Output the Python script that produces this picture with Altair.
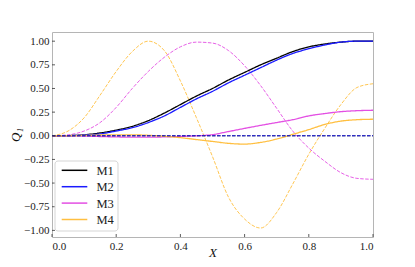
import altair as alt
import pandas as pd

X = [0.0, 0.05, 0.10, 0.15, 0.20, 0.25, 0.30, 0.35, 0.40, 0.45, 0.50,
     0.55, 0.60, 0.65, 0.70, 0.75, 0.80, 0.85, 0.90, 0.95, 1.0]

m1_solid = [0.0, 0.002, 0.01, 0.03, 0.06, 0.10, 0.16, 0.24, 0.33, 0.42, 0.50,
            0.59, 0.67, 0.75, 0.82, 0.89, 0.94, 0.97, 0.99, 1.0, 1.0]
m2_solid = [0.0, 0.001, 0.008, 0.02, 0.05, 0.085, 0.14, 0.21, 0.30, 0.39, 0.47,
            0.56, 0.64, 0.72, 0.80, 0.87, 0.92, 0.96, 0.99, 1.0, 1.0]
m3_solid = [0.0, 0.0, -0.003, -0.008, -0.012, -0.015, -0.015, -0.012, -0.007, 0.0, 0.012,
            0.045, 0.078, 0.11, 0.14, 0.17, 0.21, 0.235, 0.255, 0.265, 0.27]
m4_solid = [0.0, 0.001, 0.004, 0.008, 0.01, 0.01, 0.005, -0.005, -0.02, -0.04, -0.06,
            -0.08, -0.088, -0.07, -0.035, 0.015, 0.065, 0.12, 0.155, 0.17, 0.175]

m1_dashed = [0.0] * 21
m2_dashed = [0.0] * 21
m3_dashed = [0.0, 0.01, 0.05, 0.14, 0.30, 0.50, 0.68, 0.83, 0.94, 0.99, 0.98,
             0.90, 0.74, 0.53, 0.29, 0.05, -0.13, -0.27, -0.39, -0.45, -0.46]
m4_dashed = [0.0, 0.05, 0.19, 0.43, 0.68, 0.89, 1.0, 0.90, 0.58, 0.19, -0.22,
             -0.65, -0.88, -0.975, -0.81, -0.51, -0.195, 0.08, 0.33, 0.51, 0.55]

series = ["M1", "M2", "M3", "M4"]
colors = ["#000000", "#1a1aff", "#e34fe3", "#ffbf40"]

x_ticks = [0.0, 0.2, 0.4, 0.6, 0.8, 1.0]
y_ticks = [-1.0, -0.75, -0.5, -0.25, 0.0, 0.25, 0.5, 0.75, 1.0]

curves = [
    ("M4", "dashed", m4_dashed),
    ("M3", "dashed", m3_dashed),
    ("M1", "solid", m1_solid),
    ("M2", "solid", m2_solid),
    ("M3", "solid", m3_solid),
    ("M4", "solid", m4_solid),
    ("M1", "dashed", m1_dashed),
    ("M2", "dashed", m2_dashed),
]
rows = []
for order, (name, style, vals) in enumerate(curves):
    for xv, qv in zip(X, vals):
        rows.append({"X": xv, "Q": qv, "series": name, "style": style, "ord": order})
df = pd.DataFrame(rows)

FONT = "Liberation Serif"
W, H = 321, 205
xscale = alt.Scale(domain=[0, 1], nice=False, zero=False)
yscale = alt.Scale(domain=[-1.07, 1.097], nice=False, zero=False)
cscale = alt.Scale(domain=series, range=colors)

x_axis = alt.Axis(values=x_ticks, format=".1f", title="X", ticks=False,
                  domain=False, grid=False, labelFont=FONT, labelFontSize=11,
                  labelColor="#222", labelPadding=3, titleFont=FONT,
                  titleFontSize=13, titleFontStyle="italic",
                  titleFontWeight="normal", titleColor="#111",
                  titleY=15.5, titleBaseline="middle")
y_axis = alt.Axis(values=y_ticks, format=".2f", title="Q₁", ticks=False,
                  domain=False, grid=False, labelFont=FONT, labelFontSize=11,
                  labelColor="#222", labelPadding=3, titleFont=FONT,
                  titleFontSize=13, titleFontStyle="italic",
                  titleFontWeight="normal", titleColor="#111", titlePadding=1)

lines = alt.Chart(df).mark_line(interpolate="monotone", clip=True).encode(
    x=alt.X("X:Q", scale=xscale, axis=x_axis),
    y=alt.Y("Q:Q", scale=yscale, axis=y_axis),
    color=alt.Color("series:N", scale=cscale, legend=None),
    strokeDash=alt.StrokeDash("style:N",
                              scale=alt.Scale(domain=["solid", "dashed"],
                                              range=[[1, 0], [3.5, 1.5]]),
                              legend=None),
    strokeWidth=alt.StrokeWidth("style:N",
                                scale=alt.Scale(domain=["solid", "dashed"], range=[1.3, 0.9]),
                                legend=None),
    order=alt.Order("ord:Q"),
)

xt = pd.DataFrame({"X": x_ticks})
yt = pd.DataFrame({"t": y_ticks})
xtick_marks = alt.Chart(xt).mark_rule(color="#333", strokeWidth=0.8).encode(
    x=alt.X("X:Q", scale=xscale, axis=x_axis), y=alt.value(H), y2=alt.value(H - 3))
ytick_marks = alt.Chart(yt).mark_rule(color="#333", strokeWidth=0.8).encode(
    y=alt.Y("t:Q", scale=yscale, axis=None), x=alt.value(0), x2=alt.value(3))

# legend (manual, matplotlib style)
leg = pd.DataFrame({"series": series})
leg["row"] = range(len(series))
leg_top, row_h = 129.0, 16.4
leg["ly"] = leg_top + 9.3 + row_h * leg["row"]

leg_box = alt.Chart(pd.DataFrame({"a": [0]})).mark_rect(
    fill="white", fillOpacity=0.85, stroke="#d5d5d5", strokeWidth=1, cornerRadius=3
).encode(x=alt.value(3), x2=alt.value(66), y=alt.value(leg_top), y2=alt.value(leg_top + 70))

leg_lines = alt.Chart(leg).mark_rule(strokeWidth=1.5).encode(
    y=alt.Y("ly:Q", scale=None, axis=None),
    x=alt.value(9.7), x2=alt.value(35.3),
    color=alt.Color("series:N", scale=cscale, legend=None),
)
leg_text = alt.Chart(leg).mark_text(
    align="left", baseline="middle", font=FONT, fontSize=12.5, color="#222", dy=0.5
).encode(
    y=alt.Y("ly:Q", scale=None, axis=None),
    x=alt.value(44.5),
    text="series:N",
)

chart = alt.layer(lines, xtick_marks, ytick_marks, leg_box, leg_lines, leg_text).resolve_scale(
    y="independent"
).resolve_axis(y="independent").properties(
    width=W, height=H,
    autosize=alt.AutoSizeParams(type="none"),
    padding={"left": 44, "top": 24, "right": 34, "bottom": 22},
).configure_view(stroke="#b5b5b5", strokeWidth=1)

chart.save("out.html", embed_options={"renderer": "svg", "actions": False})
